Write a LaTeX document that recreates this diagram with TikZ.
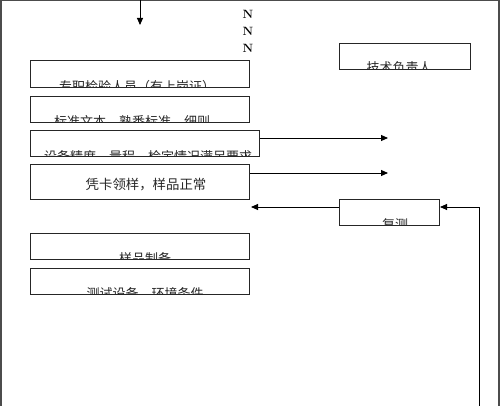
\documentclass[tikz,border=0pt]{standalone}
\usepackage{fontspec}
\newfontfamily\cjk{Noto Sans CJK SC}
\usetikzlibrary{arrows.meta}
\tikzset{
  box/.style={draw=black!85, line width=1pt, rectangle, inner sep=0pt, anchor=north west},
  cut/.style={font=\cjk\fontsize{13}{13}\selectfont, text=black!85, inner sep=0pt, anchor=base},
  full/.style={font=\cjk\fontsize{13.4}{14}\selectfont, text=black!85, inner sep=0pt},
  arr/.style={draw=black, line width=0.9pt, -{Triangle[length=7pt,width=6pt]}},
  frame/.style={draw=black!70, line width=1.5pt},
  nmark/.style={font=\bfseries\fontsize{12}{12}\selectfont, inner sep=0pt}
}
\begin{document}
\begin{tikzpicture}[x=1pt,y=-1pt]
\useasboundingbox (0,0) rectangle (500,406);
% frame
\draw[frame] (1,406) -- (1,0.7) -- (499,0.7) -- (499,406);
% top arrow
\coordinate (top) at (140,0);
\coordinate (topend) at (140,25);
\draw[arr] (top) -- (topend);
% N marks
\node[nmark] (n1) at (248,14) {N};
\node[nmark] (n2) at (248,31) {N};
\node[nmark] (n3) at (248,48) {N};
% boxes
\node[box, minimum width=219pt, minimum height=27pt] (b1) at (30,60) {};
\node[box, minimum width=219pt, minimum height=26pt] (b2) at (30,96) {};
\node[box, minimum width=229pt, minimum height=26pt] (b3) at (30,130) {};
\node[box, minimum width=219pt, minimum height=35pt] (b4) at (30,164) {};
\node[box, minimum width=219pt, minimum height=26pt] (b5) at (30,233) {};
\node[box, minimum width=219pt, minimum height=26pt] (b6) at (30,268) {};
\node[box, minimum width=131pt, minimum height=26pt] (tech) at (339,43) {};
\node[box, minimum width=100pt, minimum height=26pt] (retest) at (339,199) {};
% texts (cut at the lower edge of their boxes)
\begin{scope}\clip (30,60) rectangle (249,87);
\node[cut] (t1) at (137,92) {专职检验人员（有上岗证）};\end{scope}
\begin{scope}\clip (30,96) rectangle (249,122);
\node[cut] (t2) at (132,127) {标准文本、熟悉标准、细则};\end{scope}
\begin{scope}\clip (30,130) rectangle (259,156);
\node[cut] (t3) at (148,161) {设备精度、量程、检定情况满足要求};\end{scope}
\node[full] (t4) at (146,185) {凭卡领样，样品正常};
\begin{scope}\clip (30,233) rectangle (249,259);
\node[cut] (t5) at (145,263) {样品制备};\end{scope}
\begin{scope}\clip (30,268) rectangle (249,294);
\node[cut] (t6) at (145,298) {测试设备、环境条件};\end{scope}
\begin{scope}\clip (339,43) rectangle (470,69);
\node[cut] (t7) at (399,73) {技术负责人};\end{scope}
\begin{scope}\clip (339,199) rectangle (439,225);
\node[cut] (t8) at (395,229) {复测};\end{scope}
% connectors
\coordinate (e3) at (388,138);
\coordinate (e4) at (388,173);
\coordinate (e5) at (251,207);
\coordinate (fb) at (479,406);
\draw[arr] (b3.east |- e3) -- (e3);
\draw[arr] (b4.east |- e4) -- (e4);
\draw[arr] (retest.west |- e5) -- (e5);
\draw[arr] (fb) -- (fb |- e5) -- (retest.east |- e5);
\end{tikzpicture}
\end{document}
